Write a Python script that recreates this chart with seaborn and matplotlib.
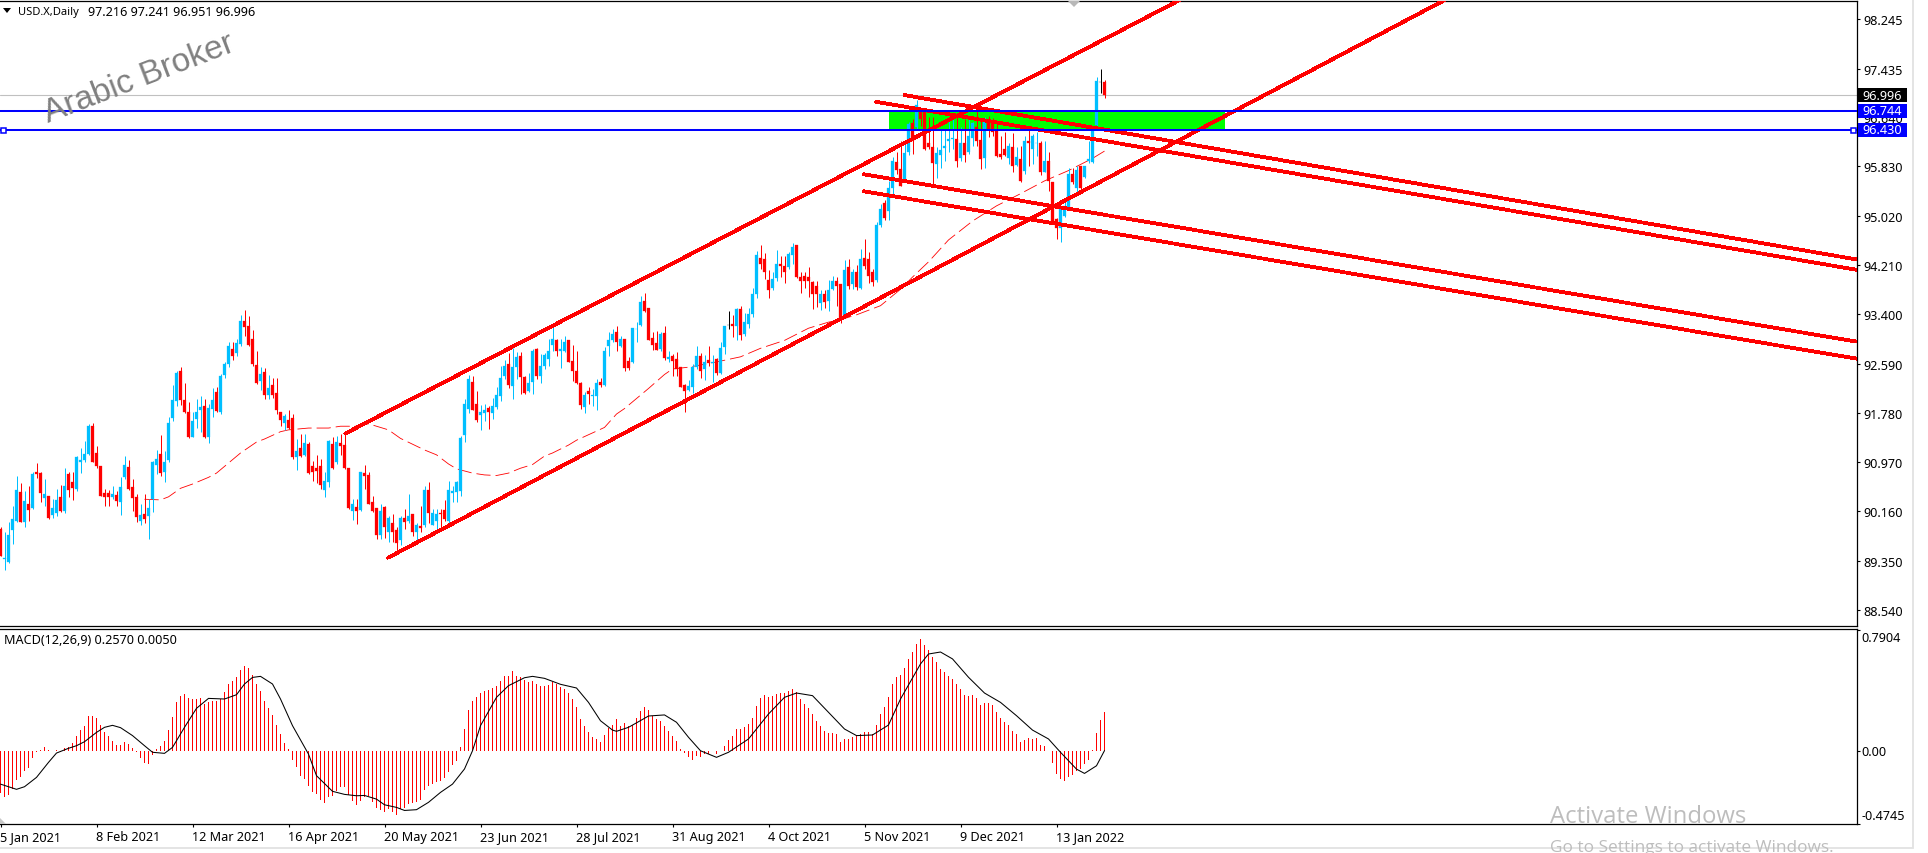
import numpy as np
import seaborn as sb
import matplotlib.pyplot as plt
from matplotlib.patches import Rectangle, Polygon

# candle direction per bar, u = up, d = down, n = doji
bar_dir = (
    "d u u u u d u d u d "
    "d u d u u d u d d u "
    "u u u d d d d d u d "
    "u u d d d u d u u u "
    "d u u u u d d d u u "
    "u d u u d u u u d u "
    "u d d d d u d u d d "
    "d u d d u d u d d d "
    "d u u d u d d d u d "
    "u d d d d u d u d d "
    "u d u d u d u d u u "
    "d d u u u u u u d d "
    "u u d u u u u d u u "
    "d d u u d u u u u d "
    "u u d d d d u d u u "
    "d u u u d u d d u u "
    "u d d d d u d u d d "
    "d d u u u d u d u d "
    "u u n d u d u u u u "
    "d d d u u d d u u d "
    "d d d d d u d u u d "
    "d u d u d u d d d u "
    "u d u u d d u u d u "
    "d d d d u u u u u d "
    "u d u u d d u d d d "
    "d d u d u d u d u u "
    "d u d d d u u u d u "
    "d u u u u n d"
).split()

body_top = [
    89.87, 89.40, 89.77, 90.04, 90.51, 90.48, 90.33, 90.28, 90.78, 90.81,
    90.79, 90.44, 90.42, 90.22, 90.35, 90.39, 90.57, 90.77, 90.65, 91.05,
    91.01, 91.10, 91.56, 91.56, 91.12, 90.91, 90.47, 90.46, 90.45, 90.43,
    90.56, 90.92, 90.89, 90.56, 90.40, 90.10, 90.12, 90.22, 90.98, 91.02,
    91.10, 90.98, 91.61, 91.99, 92.44, 92.47, 91.99, 91.79, 91.65, 91.80,
    91.88, 91.89, 91.86, 91.99, 92.13, 92.38, 92.58, 92.88, 92.83, 92.93,
    93.29, 93.29, 93.21, 92.99, 92.57, 92.42, 92.45, 92.19, 92.24, 92.11,
    91.79, 91.73, 91.67, 91.69, 91.15, 91.21, 91.28, 91.27, 90.90, 90.88,
    90.91, 90.66, 91.31, 91.27, 91.30, 91.28, 91.25, 90.87, 90.29, 90.23,
    90.80, 90.79, 90.76, 90.31, 90.21, 90.17, 90.23, 90.05, 89.97, 89.86,
    90.06, 90.05, 90.08, 90.11, 89.93, 89.92, 90.51, 90.51, 90.14, 90.12,
    90.14, 90.18, 90.51, 90.50, 90.65, 91.37, 91.92, 92.34, 92.28, 91.92,
    91.80, 91.82, 91.86, 91.89, 92.07, 92.36, 92.55, 92.58, 92.53, 92.70,
    92.72, 92.37, 92.27, 92.80, 92.83, 92.55, 92.73, 92.80, 93.00, 92.97,
    92.83, 92.95, 92.97, 92.63, 92.47, 92.27, 92.07, 92.14, 92.07, 92.27,
    92.28, 92.80, 92.97, 93.07, 93.10, 92.99, 92.99, 92.63, 93.17, 93.16,
    93.60, 93.61, 93.50, 93.01, 92.92, 93.08, 93.09, 92.70, 92.72, 92.66,
    92.53, 92.24, 92.22, 92.53, 92.72, 92.72, 92.61, 92.64, 92.62, 92.66,
    92.84, 93.20, 93.22, 93.24, 93.49, 93.49, 93.27, 93.40, 93.73, 94.37,
    94.33, 94.31, 93.97, 93.98, 94.22, 94.22, 94.20, 94.39, 94.51, 94.54,
    94.01, 94.03, 94.01, 93.93, 93.87, 93.73, 93.73, 93.80, 93.95, 93.95,
    93.90, 94.12, 94.17, 94.09, 94.10, 94.30, 94.32, 94.30, 94.09, 94.87,
    95.13, 95.23, 95.48, 95.92, 95.90, 95.79, 96.05, 96.53, 96.54, 96.83,
    96.72, 96.72, 96.22, 96.14, 96.05, 96.10, 96.16, 96.28, 96.29, 96.28,
    96.21, 96.21, 96.32, 96.54, 96.47, 96.26, 96.55, 96.61, 96.55, 96.42,
    96.03, 96.11, 96.16, 96.14, 95.98, 95.95, 96.25, 96.25, 96.32, 96.22,
    96.22, 95.91, 95.92, 95.57, 94.96, 95.14, 95.18, 95.70, 95.70, 95.77,
    95.83, 95.83, 95.95, 96.47, 97.23, 97.21, 97.216,
]
body_bottom = [
    89.43, 89.38, 89.33, 89.86, 90.01, 89.99, 89.99, 90.19, 90.21, 90.77,
    90.46, 90.38, 90.06, 90.10, 90.14, 90.16, 90.16, 90.52, 90.54, 90.53,
    90.98, 91.00, 91.10, 90.98, 90.91, 90.42, 90.40, 90.40, 90.39, 90.33,
    90.32, 90.73, 90.53, 90.38, 90.07, 90.01, 90.03, 90.08, 90.36, 90.93,
    90.79, 90.80, 91.00, 91.69, 91.98, 91.99, 91.79, 91.39, 91.39, 91.68,
    91.83, 91.38, 91.38, 91.84, 91.81, 91.79, 92.40, 92.58, 92.72, 92.77,
    92.91, 93.19, 92.89, 92.58, 92.27, 92.30, 92.08, 92.07, 92.07, 91.83,
    91.67, 91.61, 91.53, 91.06, 91.06, 91.07, 91.09, 90.79, 90.80, 90.83,
    90.60, 90.52, 90.65, 90.87, 90.97, 91.24, 90.87, 90.22, 90.16, 90.17,
    90.19, 90.75, 90.29, 90.16, 89.77, 89.78, 89.90, 89.82, 89.83, 89.64,
    89.69, 89.99, 90.01, 89.82, 89.83, 89.88, 89.93, 90.13, 89.94, 90.01,
    90.11, 90.03, 90.01, 90.47, 90.48, 90.49, 91.42, 91.85, 91.83, 91.67,
    91.74, 91.78, 91.79, 91.77, 91.87, 92.06, 92.38, 92.24, 92.22, 92.53,
    92.37, 92.11, 92.14, 92.28, 92.38, 92.38, 92.55, 92.66, 92.89, 92.80,
    92.80, 92.80, 92.62, 92.47, 92.27, 91.91, 91.88, 92.09, 92.05, 92.05,
    92.23, 92.23, 92.87, 92.98, 92.95, 92.88, 92.51, 92.51, 92.62, 93.15,
    93.22, 93.45, 92.98, 92.90, 92.82, 92.83, 92.68, 92.66, 92.63, 92.50,
    92.21, 92.14, 92.16, 92.20, 92.54, 92.47, 92.50, 92.60, 92.60, 92.43,
    92.43, 92.86, 93.22, 93.21, 93.21, 93.06, 93.07, 93.24, 93.40, 93.73,
    94.22, 94.09, 93.79, 93.83, 93.99, 94.20, 94.09, 94.18, 94.37, 94.01,
    93.95, 93.95, 93.95, 93.73, 93.73, 93.58, 93.60, 93.62, 93.81, 93.86,
    93.32, 93.38, 93.86, 93.90, 93.84, 93.83, 94.19, 94.02, 93.93, 93.97,
    94.87, 94.98, 95.10, 95.47, 95.77, 95.51, 95.61, 96.06, 96.25, 96.47,
    96.61, 96.11, 96.14, 95.88, 95.87, 96.02, 96.13, 96.25, 96.28, 95.91,
    95.96, 96.02, 96.06, 96.29, 96.25, 95.95, 95.97, 96.42, 96.40, 96.00,
    95.99, 96.02, 95.96, 95.84, 95.85, 95.59, 95.76, 96.22, 96.11, 96.21,
    95.73, 95.74, 95.59, 94.91, 94.82, 94.81, 95.02, 95.16, 95.57, 95.48,
    95.47, 95.65, 95.91, 95.90, 96.51, 97.21, 96.996,
]
wick_high = [
    89.90, 89.82, 89.98, 90.25, 90.75, 90.63, 90.50, 90.58, 90.80, 90.96,
    90.80, 90.70, 90.42, 90.36, 90.53, 90.60, 90.88, 90.80, 90.80, 91.07,
    91.21, 91.31, 91.59, 91.61, 91.24, 90.91, 90.53, 90.52, 90.58, 90.50,
    90.72, 91.07, 91.00, 90.69, 90.45, 90.28, 90.45, 90.36, 90.99, 91.17,
    91.42, 91.16, 91.71, 92.24, 92.46, 92.53, 92.27, 91.95, 91.80, 92.01,
    92.05, 92.01, 91.93, 92.18, 92.20, 92.41, 92.62, 92.95, 92.94, 92.99,
    93.38, 93.47, 93.37, 93.14, 92.80, 92.53, 92.51, 92.40, 92.36, 92.36,
    91.80, 91.76, 91.82, 91.76, 91.35, 91.43, 91.43, 91.30, 90.99, 91.08,
    91.02, 90.80, 91.34, 91.38, 91.40, 91.44, 91.43, 90.88, 90.36, 90.36,
    90.81, 90.92, 90.81, 90.42, 90.21, 90.28, 90.25, 90.09, 90.12, 89.90,
    90.09, 90.20, 90.44, 90.12, 89.97, 90.25, 90.58, 90.64, 90.20, 90.20,
    90.20, 90.34, 90.66, 90.58, 90.66, 91.40, 92.01, 92.40, 92.38, 92.14,
    91.91, 91.92, 91.89, 92.03, 92.20, 92.55, 92.64, 92.76, 92.84, 92.78,
    92.78, 92.39, 92.43, 92.83, 92.84, 92.75, 92.77, 93.00, 93.21, 93.00,
    92.99, 93.05, 92.98, 92.89, 92.80, 92.28, 92.12, 92.20, 92.17, 92.34,
    92.36, 92.86, 93.11, 93.16, 93.20, 93.05, 93.00, 92.69, 93.18, 93.27,
    93.70, 93.75, 93.50, 93.11, 93.13, 93.10, 93.20, 92.80, 92.75, 92.78,
    92.54, 92.25, 92.32, 92.58, 92.87, 92.77, 92.73, 92.87, 92.73, 92.68,
    92.95, 93.21, 93.45, 93.39, 93.51, 93.53, 93.42, 93.50, 93.83, 94.44,
    94.53, 94.41, 94.12, 94.09, 94.46, 94.35, 94.35, 94.42, 94.57, 94.54,
    94.10, 94.09, 94.17, 93.95, 93.95, 93.79, 93.79, 93.96, 94.03, 94.01,
    93.90, 94.29, 94.31, 94.14, 94.21, 94.47, 94.64, 94.42, 94.15, 94.91,
    95.21, 95.27, 95.59, 95.98, 96.06, 96.25, 96.25, 96.55, 96.61, 96.92,
    96.77, 96.74, 96.64, 96.64, 96.14, 96.44, 96.44, 96.61, 96.66, 96.64,
    96.47, 96.61, 96.61, 96.55, 96.77, 96.61, 96.64, 96.66, 96.62, 96.55,
    96.33, 96.39, 96.22, 96.38, 96.14, 96.17, 96.33, 96.43, 96.36, 96.39,
    96.24, 96.25, 96.06, 95.58, 94.98, 95.18, 95.24, 95.80, 95.80, 95.83,
    95.84, 95.84, 96.25, 96.50, 97.29, 97.43, 97.241,
]
wick_low = [
    89.42, 89.19, 89.32, 89.62, 89.98, 89.99, 89.91, 90.01, 90.20, 90.71,
    90.31, 90.25, 90.04, 90.06, 90.09, 90.15, 90.13, 90.39, 90.35, 90.50,
    90.79, 90.97, 91.08, 90.97, 90.88, 90.41, 90.25, 90.25, 90.36, 90.25,
    90.10, 90.69, 90.52, 90.17, 89.98, 89.94, 89.97, 89.70, 90.15, 90.78,
    90.75, 90.65, 90.97, 91.65, 91.89, 91.91, 91.78, 91.36, 91.38, 91.53,
    91.46, 91.36, 91.28, 91.71, 91.79, 91.76, 92.36, 92.53, 92.64, 92.72,
    92.88, 93.04, 92.88, 92.55, 92.26, 92.16, 92.01, 92.00, 92.02, 91.76,
    91.57, 91.50, 91.51, 91.02, 90.84, 91.05, 91.07, 90.77, 90.66, 90.63,
    90.53, 90.40, 90.56, 90.85, 90.94, 91.08, 90.86, 90.20, 90.02, 89.95,
    90.17, 90.53, 90.28, 90.15, 89.70, 89.70, 89.73, 89.66, 89.66, 89.53,
    89.61, 89.87, 89.97, 89.75, 89.68, 89.82, 89.90, 89.97, 89.93, 89.87,
    89.87, 90.01, 89.93, 90.31, 90.31, 90.42, 91.30, 91.78, 91.82, 91.63,
    91.50, 91.65, 91.51, 91.68, 91.84, 91.98, 92.34, 92.18, 92.00, 92.34,
    92.09, 92.09, 92.12, 92.09, 92.34, 92.27, 92.50, 92.55, 92.80, 92.72,
    92.51, 92.78, 92.61, 92.31, 92.25, 91.84, 91.78, 91.92, 91.90, 91.82,
    92.20, 92.22, 92.72, 92.94, 92.80, 92.86, 92.47, 92.49, 92.60, 92.94,
    93.21, 93.43, 92.97, 92.82, 92.81, 92.80, 92.64, 92.61, 92.39, 92.38,
    92.20, 91.80, 92.14, 92.11, 92.50, 92.36, 92.32, 92.55, 92.29, 92.40,
    92.42, 92.75, 93.16, 93.03, 92.97, 92.97, 93.04, 93.18, 93.35, 93.66,
    94.14, 93.98, 93.67, 93.80, 93.95, 94.01, 93.91, 94.15, 94.22, 93.99,
    93.75, 93.83, 93.68, 93.49, 93.52, 93.47, 93.50, 93.46, 93.80, 93.54,
    93.26, 93.35, 93.81, 93.81, 93.79, 93.81, 94.15, 93.92, 93.86, 93.93,
    94.83, 94.95, 94.95, 95.38, 95.70, 95.50, 95.59, 96.02, 96.03, 96.42,
    96.50, 96.10, 96.11, 95.51, 95.64, 95.80, 95.92, 96.06, 96.11, 95.82,
    95.92, 95.90, 96.03, 96.17, 96.17, 95.79, 95.81, 96.31, 96.32, 95.98,
    95.95, 96.00, 95.86, 95.73, 95.84, 95.58, 95.70, 95.84, 95.87, 96.00,
    95.69, 95.73, 95.43, 94.91, 94.63, 94.59, 94.99, 95.15, 95.54, 95.39,
    95.46, 95.64, 95.89, 95.89, 96.50, 97.03, 96.951,
]

# moving average, read at a subset of bars
ma_bars = [36, 40, 42, 45, 48, 52, 54, 58, 60, 64, 66, 70, 72, 77, 82, 85, 89, 92, 94, 97,
           100, 106, 109, 112, 114, 118, 121, 124, 127, 130, 133, 136, 138, 142, 144, 148,
           151, 154, 156, 160, 162, 166, 168, 172, 177, 180, 185, 190, 196, 202, 207, 210,
           214, 220, 225, 228, 232, 237, 243, 249, 255, 261, 267, 273, 276]
ma_values = [90.36, 90.35, 90.40, 90.54, 90.61, 90.72, 90.79, 91.01, 91.12, 91.30, 91.35,
             91.47, 91.50, 91.53, 91.53, 91.56, 91.56, 91.60, 91.56, 91.50, 91.36, 91.17,
             91.09, 90.94, 90.86, 90.79, 90.76, 90.75, 90.79, 90.87, 90.93, 91.07, 91.12,
             91.25, 91.33, 91.45, 91.54, 91.76, 91.85, 92.07, 92.18, 92.41, 92.50, 92.53,
             92.59, 92.63, 92.70, 92.84, 92.97, 93.17, 93.27, 93.31, 93.39, 93.54, 93.81,
             94.01, 94.26, 94.62, 94.93, 95.18, 95.38, 95.59, 95.76, 95.96, 96.08]

macd_hist = [
    -.272, -.296, -.285, -.246, -.187, -.170, -.129, -.109, -.041, -.002,
    .011, .026, .011, .004, .009, -.002, .020, .026, .054, .102,
    .139, .168, .231, .231, .220, .172, .129, .098, .070, .044,
    .044, .059, .048, .024, -.002, -.041, -.076, -.083, -.024, .015,
    .035, .070, .142, .227, .325, .362, .375, .349, .342, .342,
    .349, .309, .320, .327, .331, .342, .390, .440, .462, .488,
    .534, .560, .547, .499, .440, .397, .331, .283, .237, .172,
    .113, .054, .015, -.054, -.105, -.163, -.181, -.224, -.264, -.279,
    -.316, -.338, -.301, -.290, -.257, -.231, -.231, -.285, -.322, -.351,
    -.322, -.301, -.290, -.329, -.370, -.381, -.399, -.377, -.394, -.416,
    -.377, -.373, -.344, -.340, -.333, -.316, -.251, -.224, -.214, -.203,
    -.196, -.176, -.133, -.089, -.061, .031, .146, .270, .331, .353,
    .381, .397, .403, .412, .425, .460, .492, .492, .525, .492,
    .484, .466, .451, .462, .440, .425, .429, .434, .451, .440,
    .418, .407, .381, .342, .288, .211, .168, .124, .092, .081,
    .063, .107, .150, .172, .211, .168, .185, .163, .172, .218,
    .264, .288, .270, .233, .211, .200, .168, .135, .102, .070,
    .015, -.013, -.039, -.057, -.033, -.039, -.017, -.017, .004, -.020,
    .000, .037, .076, .102, .146, .146, .159, .179, .218, .296,
    .349, .368, .357, .364, .375, .381, .381, .397, .407, .386,
    .342, .309, .281, .244, .200, .168, .131, .120, .120, .113,
    .059, .081, .081, .092, .098, .113, .124, .124, .113, .172,
    .244, .288, .353, .440, .484, .499, .542, .603, .647, .702,
    .734, .695, .662, .614, .582, .538, .516, .490, .473, .440,
    .407, .368, .359, .368, .349, .303, .314, .316, .303, .259,
    .218, .190, .172, .133, .113, .063, .076, .085, .081, .087,
    .044, .037, .000, -.076, -.148, -.181, -.192, -.166, -.153, -.126,
    -.115, -.083, -.057, .009, .120, .205, .257,
]

signal_bars = [0, 4, 6, 9, 12, 14, 17, 19, 21, 24, 26, 28, 30, 33, 36, 38, 41, 43, 46, 49,
               52, 56, 59, 61, 63, 65, 68, 70, 73, 77, 79, 83, 86, 89, 91, 94, 96, 99, 101,
               104, 107, 110, 113, 116, 118, 120, 124, 127, 131, 133, 136, 140, 144, 147,
               150, 153, 154, 157, 160, 162, 166, 169, 172, 175, 179, 182, 187, 192, 196,
               199, 203, 207, 211, 214, 218, 222, 225, 230, 232, 235, 238, 242, 246, 250,
               254, 258, 262, 265, 269, 271, 274, 276]
signal_values = [-.214, -.248, -.231, -.170, -.072, -.011, .020, .037, .063, .124, .157, .170,
                 .155, .103, .037, -.006, -.013, .026, .157, .281, .346, .342, .370, .440,
                 .483, .490, .440, .342, .168, -.018, -.159, -.261, -.281, -.290, -.288,
                 -.312, -.349, -.366, -.386, -.381, -.333, -.268, -.214, -.115, .004, .168,
                 .353, .429, .481, .490, .477, .438, .414, .320, .200, .139, .131, .157, .201,
                 .231, .238, .190, .092, .004, -.039, -.006, .081, .244, .353, .381, .364,
                 .255, .146, .103, .107, .172, .342, .571, .636, .649, .604, .484, .381, .320,
                 .233, .139, .081, -.006, -.116, -.144, -.094, .005]

price_ticks = [98.245, 97.435, 96.640, 95.830, 95.020, 94.210, 93.400, 92.590, 91.780, 90.970,
               90.160, 89.350, 88.540]
date_labels = ['5 Jan 2021', '8 Feb 2021', '12 Mar 2021', '16 Apr 2021', '20 May 2021',
               '23 Jun 2021', '28 Jul 2021', '31 Aug 2021', '4 Oct 2021', '5 Nov 2021',
               '9 Dec 2021', '13 Jan 2022']
last_price = 96.996
level_high = 96.744
level_low = 96.430

# trend lines as (bar, price) ends
channel_top = ([86.2, 294.75], [91.44, 98.56])
channel_bottom = ([96.9, 361], [89.40, 98.56])
falling_a = ([226, 464], [97.00, 94.30])
falling_b = ([218.9, 464], [96.89, 94.13])
falling_c = ([215.8, 464], [95.70, 92.95])
falling_d = ([215.8, 464], [95.42, 92.67])

W, H = 1928, 854
UP = '#00BFFF'
DOWN = '#FF0000'
FS = 9.1


def px_box(left, top, right, bottom):
    return [left / W, 1 - bottom / H, (right - left) / W, (bottom - top) / H]


sb.set_theme(style="white")
plt.rcParams['font.family'] = ['Noto Sans', 'DejaVu Sans']
plt.rcParams['font.size'] = FS

fig = plt.figure(figsize=(W / 100, H / 100), dpi=100, facecolor='white')
ax = fig.add_axes(px_box(0, 1.5, 1856.5, 627))
ax2 = fig.add_axes(px_box(0, 629.5, 1856.5, 825))

bars = np.arange(len(body_top))
top = np.array(body_top)
bottom = np.array(body_bottom)
colour = [UP if d == 'u' else DOWN if d == 'd' else 'black' for d in bar_dir]

ax.axhline(last_price, color='#C0C0C0', lw=0.8, zorder=1)
ax.add_patch(Rectangle((222, level_low), 84, level_high - level_low, fc='#00FF00', ec='none', zorder=1))

sb.lineplot(x=ma_bars, y=ma_values, color=DOWN, lw=0.6, linestyle=(0, (17, 6)), ax=ax, zorder=2)
ax.vlines(bars, wick_low, wick_high, colors=colour, lw=0.72, zorder=3)
ax.bar(bars, top - bottom, bottom=bottom, width=0.72, color=colour, edgecolor=colour, lw=0.2,
       zorder=3)

for line in [channel_top, channel_bottom, falling_a, falling_b, falling_c, falling_d]:
    sb.lineplot(x=line[0], y=line[1], color=DOWN, lw=2.0, antialiased=False, ax=ax, zorder=4)

ax.axhline(level_high, color='#0000FF', lw=1.45, zorder=5)
ax.axhline(level_low, color='#0000FF', lw=1.45, zorder=5)
ax.plot([0.6, 463.2], [level_low, level_low], ls='none', marker='s', ms=3.6, mfc='white',
        mec='#0000FF', mew=1.1, zorder=6)

ax.set_xlim(-0.125, 464)
ax.set_ylim(88.278, 98.554)
ax.set_xticks([])
ax.set_yticks(price_ticks)
ax.set_yticklabels(['%.3f' % p for p in price_ticks])
ax.yaxis.tick_right()
ax.set(xlabel='', ylabel='')

sb.barplot(x=bars, y=macd_hist, native_scale=True, color=DOWN, saturation=1, width=0.25,
           linewidth=0, errorbar=None, antialiased=False, ax=ax2, zorder=2)
sb.lineplot(x=signal_bars, y=signal_values, color='black', lw=0.75, ax=ax2, zorder=3)
ax2.set_xlim(-0.125, 464)
ax2.set_ylim(-0.4745, 0.8026)
ax2.set_yticks([0.7904, 0, -0.4745])
ax2.set_yticklabels([])
ax2.yaxis.tick_right()
ax2.set_xticks(np.arange(len(date_labels)) * 24)
ax2.set_xticklabels(date_labels, ha='left')
ax2.set(xlabel='', ylabel='')

for a in (ax, ax2):
    for side in a.spines:
        a.spines[side].set_color('black')
        a.spines[side].set_linewidth(0.9)
    a.spines['left'].set_visible(False)
    a.tick_params(axis='both', length=2.5, width=0.8, color='black', labelcolor='black',
                  labelsize=FS, pad=2.2, bottom=a is ax2, right=True, left=False)
    a.set_facecolor('white')
ax2.tick_params(axis='x', pad=2)

# window furniture, in screen pixels
ov = fig.add_axes([0, 0, 1, 1], facecolor='none', zorder=10)
ov.set_xlim(0, W)
ov.set_ylim(H, 0)
ov.axis('off')

ov.text(18, 12.5, 'USD.X,Daily', fontsize=8, va='center', color='black')
ov.text(88.5, 12.5, '97.216 97.241 96.951 96.996', fontsize=FS, va='center', color='black')
ov.add_patch(Polygon([[3, 9], [11, 9], [7, 14]], fc='black', ec='none'))
ov.text(4, 640.5, 'MACD(12,26,9) 0.2570 0.0050', fontsize=FS, va='center', color='black')
ov.text(48, 123, 'Arabic Broker', family=['Liberation Sans'], fontsize=24, color='#808080',
        rotation=21, rotation_mode='anchor', ha='left', va='baseline')

ov.text(1861, 639, '0.7904', fontsize=FS, va='center', color='black')
ov.text(1861, 752.5, '0.00', fontsize=FS, va='center', color='black')
ov.text(1861, 817, '-0.4745', fontsize=FS, va='center', color='black')

for y, fc, label in [(96, 'black', '96.996'), (111.5, '#0000FF', '96.744'), (130.8, '#0000FF', '96.430')]:
    ov.add_patch(Rectangle((1858, y - 7), 49, 14, fc=fc, ec='none'))
    ov.text(1882.5, y, label, fontsize=FS, color='white', ha='center', va='center')

ov.add_patch(Polygon([[1068, 2], [1080, 2], [1074, 8]], fc='#B8B8B8', ec='none'))
ov.add_patch(Polygon([[0, 819], [6, 825], [0, 825]], fc='#C8C8C8', ec='none'))

ov.plot([0, 1913, 1913], [849, 849, 0], color='#E2E2E2', lw=1.3, solid_joinstyle='miter')
ov.text(1550, 823, 'Activate Windows', family=['Open Sans'], fontsize=17.2, color='#BDBDBD', va='baseline')
ov.text(1550, 852, 'Go to Settings to activate Windows.', family=['Open Sans'], fontsize=12.4,
        color='#BDBDBD', va='baseline')

fig.savefig('out.png', dpi=100)
